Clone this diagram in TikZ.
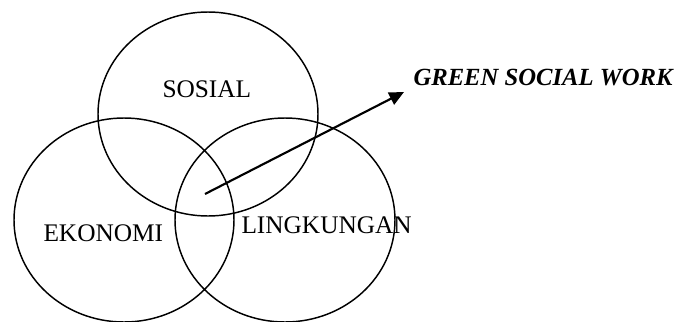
\documentclass[tikz,border=0pt]{standalone}
\usepackage{fontspec}
\setmainfont{Liberation Serif}
\usetikzlibrary{arrows.meta}

\tikzset{every picture/.style={line width=0.75pt}}
\tikzset{
  venn/.style={line width=1.1pt},
  label text/.style={anchor=base west,inner sep=0pt,font=\fontsize{19}{23}\selectfont},
  title text/.style={anchor=base west,inner sep=0pt,font=\fontsize{18.5}{22}\selectfont\bfseries\itshape},
  pointer/.style={line width=1.6pt,-{Triangle[length=11pt,width=10pt]}}
}

\begin{document}
\begin{tikzpicture}[x=0.75pt,y=0.75pt,yscale=-1,xscale=1]
\useasboundingbox (0,0) rectangle (687,322); %set diagram size 687 x 322

%Shape: Ellipse (Sosial)
\draw [venn] (208,114) ellipse [x radius=110, y radius=102];
%Shape: Ellipse (Ekonomi)
\draw [venn] (124,220) ellipse [x radius=110, y radius=102];
%Shape: Ellipse (Lingkungan)
\draw [venn] (285,220) ellipse [x radius=110, y radius=102];

% Text Node
\node [label text] (sosial) at (162,97) {SOSIAL};
% Text Node
\node [label text] (ekonomi) at (43,241) {EKONOMI};
% Text Node
\node [label text] (lingkungan) at (241,233) {LINGKUNGAN};
% Text Node
\node [title text] (gsw) at (413,85) {GREEN SOCIAL WORK};

%Straight Lines (arrow out of the middle)
\coordinate (irisan) at (205,194);
\coordinate (ujung) at (404,92);
\draw [pointer] (irisan) -- (ujung);

\end{tikzpicture}
\end{document}
